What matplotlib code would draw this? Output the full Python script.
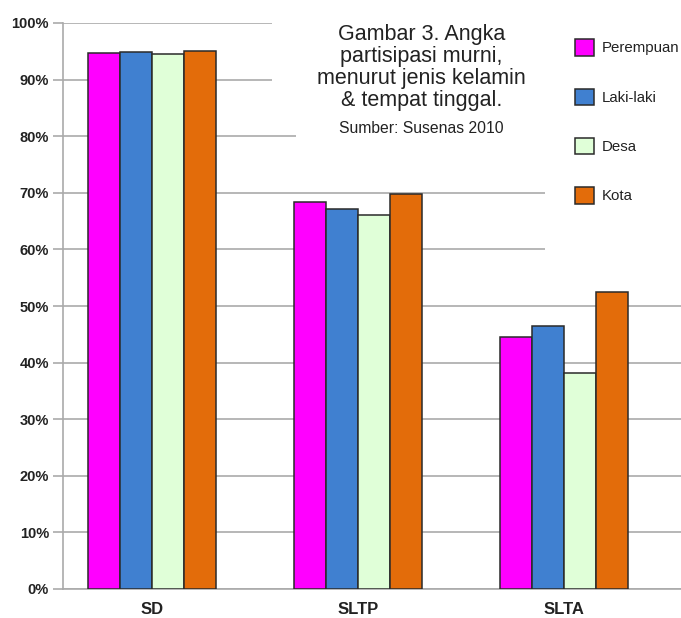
import numpy as np
import matplotlib
matplotlib.use("Agg")
import matplotlib.pyplot as plt
from matplotlib.patches import Rectangle

plt.rcParams['font.family'] = ['Liberation Sans', 'DejaVu Sans']

categories = ["SD", "SLTP", "SLTA"]
series = ["Perempuan", "Laki-laki", "Desa", "Kota"]
perempuan = [94.7, 68.4, 44.6]
laki_laki = [94.8, 67.1, 46.5]
desa = [94.5, 66.0, 38.2]
kota = [95.0, 69.7, 52.4]
colors = ["#ff00ff", "#4080d0", "#e0ffd8", "#e36c0a"]

values = [perempuan, laki_laki, desa, kota]

fig = plt.figure(figsize=(6.81, 6.18), dpi=100)
ax = fig.add_axes([63 / 681, 29 / 618, 1 - 63 / 681, 566 / 618])

x = np.arange(len(categories))
width = 0.155
handles = []
for i, (name, vals, c) in enumerate(zip(series, values, colors)):
    b = ax.bar(x + (i - 1.5) * width, np.array(vals) / 100, width,
               color=c, edgecolor="#2a2a2a", linewidth=1.1, label=name, zorder=3)
    handles.append(b)

ax.set_xlim(-0.432, 2.568)
ax.set_ylim(0, 1)
ax.set_yticks(np.arange(0, 1.01, 0.1))
ax.set_yticklabels(["{}%".format(v) for v in range(0, 101, 10)],
                   fontsize=10.5, fontweight="bold", color="#222222")
ax.set_xticks(x)
ax.set_xticklabels(categories, fontsize=12, fontweight="bold", color="#222222")
ax.tick_params(axis="x", length=0, pad=9)
ax.tick_params(axis="y", length=7, color="#aaaaaa", width=1.2, pad=3)

ax.set_axisbelow(True)
ax.yaxis.grid(True, color="#aaaaaa", linewidth=1.2, zorder=0)
for s in ["top", "right"]:
    ax.spines[s].set_visible(False)
ax.spines["left"].set_color("#aaaaaa")
ax.spines["bottom"].set_color("#aaaaaa")
ax.spines["left"].set_linewidth(1.2)
ax.spines["bottom"].set_linewidth(1.2)

# white panels behind the title and the legend (they hide the gridlines)
tr = ax.transAxes
def px_rect(x0, y0, x1, y1):
    # pixel box -> axes fraction
    ax_l, ax_b = 63, 618 - 29
    w, h = 681 - 63, 566
    return Rectangle(((x0 - ax_l) / w, (ax_b - y1) / h), (x1 - x0) / w, (y1 - y0) / h,
                     transform=tr, facecolor="white", edgecolor="none", zorder=1)

ax.add_patch(px_rect(272, 0, 545, 105))
ax.add_patch(px_rect(296, 105, 545, 150))
ax.add_patch(px_rect(545, 0, 681, 280))

ax.text(0.58, 0.998, "Gambar 3. Angka\npartisipasi murni,\nmenurut jenis kelamin\n& tempat tinggal.",
        transform=tr, ha="center", va="top", fontsize=15.5, color="#222222",
        linespacing=1.07, zorder=4)
ax.text(0.58, 0.826, "Sumber: Susenas 2010", transform=tr, ha="center", va="top",
        fontsize=11.3, color="#222222", zorder=4)

leg = ax.legend(handles=handles, loc="upper left", bbox_to_anchor=(0.818, 0.982),
                frameon=False, fontsize=10.8, handlelength=1.3, handleheight=1.3,
                labelspacing=2.2, handletextpad=0.5, borderaxespad=0)
for t in leg.get_texts():
    t.set_color("#222222")

fig.savefig("out.png", dpi=100)
